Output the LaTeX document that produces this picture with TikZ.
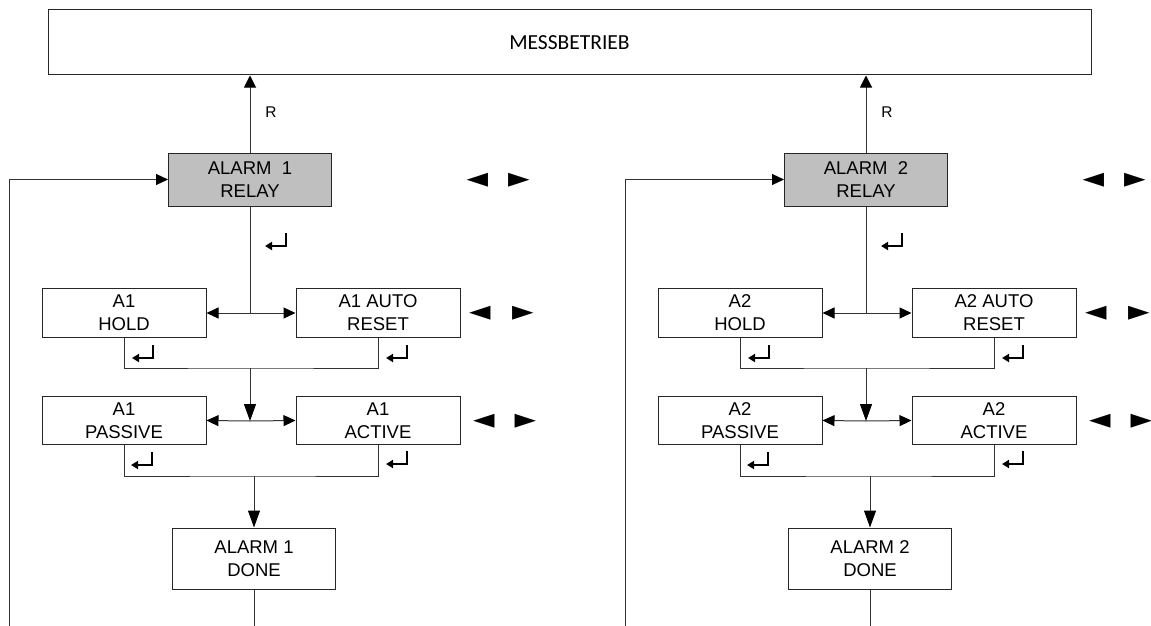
\documentclass[tikz,border=0pt]{standalone}
\usepackage{fontspec}
\setmainfont{Liberation Sans}
\newfontfamily\titlefont{Carlito}
\newfontfamily\symfont{DejaVu Sans}
\usetikzlibrary{arrows.meta}

\tikzset{
  box/.style={draw=black!85, line width=1pt, inner sep=0pt, align=center,
    minimum width=164pt, minimum height=48.5pt,
    font=\fontsize{18.5}{23}\selectfont},
  relaybox/.style={box, fill=black!25, minimum width=163pt, minimum height=53pt},
  donebox/.style={box, minimum width=163pt, minimum height=61pt},
  line/.style={draw=black!80, line width=1pt},
  harr/.style={line, -{Triangle[width=11pt,length=12pt,color=black]}},
  darr/.style={line, -{Triangle[width=12pt,length=17pt,color=black]}},
  uarr/.style={line, -{Triangle[width=12pt,length=12pt,color=black]}},
  keylabel/.style={inner sep=0pt, font=\fontsize{15.5}{16}\selectfont},
  ptr/.style={inner sep=0pt, font=\symfont\fontsize{28}{28}\selectfont},
  enterkey/.pic={\draw[line width=2pt, -{Triangle[width=8pt,length=7pt]}]
    (0,0) -- (0,13) -- (-21,13);}
}

\begin{document}
\begin{tikzpicture}[x=1pt,y=-1pt]
\useasboundingbox (0,0) rectangle (1151,626);

% operating mode bar
\node[draw=black!85, line width=1pt, minimum width=1043pt, minimum height=65pt,
      inner sep=0pt, font=\titlefont\fontsize{21.5}{24}\selectfont]
      (mess) at (569.5,42.5) {MESSBETRIEB};

% one alarm menu column per relay
\foreach \n/\dx in {1/0, 2/616}{
  \begin{scope}[xshift=\dx pt]
    \node[relaybox] (relay\n) at (250,179.5) {ALARM\ \ \n\\RELAY};
    \node[box] (hold\n) at (124,313) {A\n\\HOLD};
    \node[box] (auto\n) at (378,313) {A\n\ AUTO\\RESET};
    \node[box] (passive\n) at (124,420.5) {A\n\\PASSIVE};
    \node[box] (active\n) at (378,420.5) {A\n\\ACTIVE};
    \node[donebox] (done\n) at (254,558.5) {ALARM \n\\DONE};

    \coordinate (loop\n) at (9,626);
    \coordinate (ja\n) at (250,313);
    \coordinate (ba\n) at (250,368);
    \coordinate (jb\n) at (250,421);
    \coordinate (bb\n) at (254,476);
    \coordinate (out\n) at (254,626);

    % return to operating mode
    \draw[uarr] (relay\n.north) -- (relay\n.north |- mess.south);
    \node[keylabel] (rkey\n) at (271,112) {R};

    % loop back into the relay menu
    \draw[harr] (loop\n) |- (relay\n.west);

    % relay -> hold / auto reset
    \draw[line] (relay\n.south) -- (ja\n);
    \draw[harr] (ja\n) -- (hold\n.east);
    \draw[harr] (ja\n) -- (auto\n.west);

    % hold / auto reset -> passive / active
    \draw[line] (hold\n.south) |- (ba\n) -| (auto\n.south);
    \draw[darr] (ba\n) -- (jb\n);
    \draw[harr] (jb\n) -- (passive\n.east);
    \draw[harr] (jb\n) -- (active\n.west);

    % passive / active -> done
    \draw[line] (passive\n.south) |- (bb\n) -| (active\n.south);
    \draw[darr] (bb\n) -- (done\n.north);
    \draw[line] (done\n.south) -- (out\n);

    % enter key marks
    \pic at (286,233) {enterkey};
    \pic at (153,345) {enterkey};
    \pic at (407,345) {enterkey};
    \pic at (152,452) {enterkey};
    \pic at (407,451) {enterkey};

    % left / right key marks
    \node[ptr] (la\n) at (477.5,180) {◄};
    \node[ptr] (ra\n) at (519,180) {►};
    \node[ptr] (lb\n) at (480,313) {◄};
    \node[ptr] (rb\n) at (523,313) {►};
    \node[ptr] (lc\n) at (484,421) {◄};
    \node[ptr] (rc\n) at (525.5,421) {►};
  \end{scope}
}
\end{tikzpicture}
\end{document}
